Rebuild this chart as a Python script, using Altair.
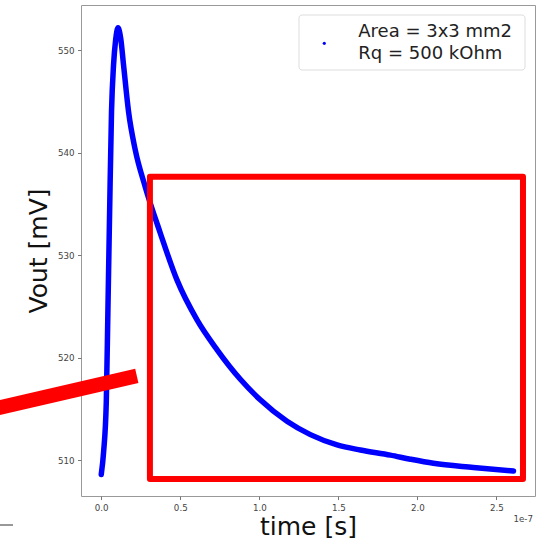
import altair as alt
import pandas as pd

# time in units of 1e-7 s, Vout in mV
t_vals = [0.000, 0.015, 0.032, 0.042, 0.053, 0.065, 0.078, 0.091, 0.106, 0.123,
          0.141, 0.173, 0.215, 0.278, 0.373, 0.479, 0.606, 0.732, 0.880, 1.006,
          1.175, 1.323, 1.492, 1.639, 1.829, 1.956, 2.101, 2.354, 2.608]
v_vals = [508.6, 510.8, 515.7, 524.4, 534.2, 544.0, 548.6, 551.0, 552.2, 551.2,
          548.6, 544.0, 540.3, 536.7, 532.2, 527.6, 523.7, 520.8, 517.9, 515.9,
          513.8, 512.5, 511.5, 511.0, 510.5, 510.1, 509.7, 509.3, 508.95]

x_ticks = [0.0, 0.5, 1.0, 1.5, 2.0, 2.5]
y_ticks = [510, 520, 530, 540, 550]
x_domain = [-0.128, 2.744]
y_domain = [506.51, 554.43]

legend_lines = ["Area = 3x3 mm2", "Rq = 500 kOhm"]

# annotation box and bar (data coordinates)
box = {"t": 0.308, "t2": 2.668, "v": 537.67, "v2": 508.17}
bar_t = [-0.70, 0.225]
bar_v = [514.94, 518.23]

curve_df = pd.DataFrame({"t": t_vals, "v": v_vals})
bar_df = pd.DataFrame({"t": bar_t, "v": bar_v})
one = alt.Data(values=[{}])

xs = alt.Scale(domain=x_domain, nice=False, zero=False)
ys = alt.Scale(domain=y_domain, nice=False, zero=False)
x_axis = alt.Axis(values=x_ticks, format=".1f", titleY=38, titleBaseline="alphabetic")
y_axis = alt.Axis(values=y_ticks, format="d", titleX=-35, titleY=245.5, titleAngle=-90,
                  titleBaseline="alphabetic", titleAlign="center")


def X(field="t"):
    return alt.X(f"{field}:Q", scale=xs, axis=x_axis, title="time [s]")


def Y(field="v"):
    return alt.Y(f"{field}:Q", scale=ys, axis=y_axis, title="Vout [mV]")


curve = alt.Chart(curve_df).mark_line(
    color="#0000ff", strokeWidth=5.5, strokeCap="round", strokeJoin="round",
    interpolate="monotone"
).encode(x=X(), y=Y())

rect = alt.Chart(alt.Data(values=[box])).mark_rect(
    fillOpacity=0, stroke="#ff0000", strokeWidth=6, strokeJoin="round"
).encode(x=X(), x2="t2:Q", y=Y(), y2="v2:Q")

bar = alt.Chart(bar_df).mark_line(
    color="#ff0000", strokeWidth=14.5, strokeCap="butt", clip=False
).encode(x=X(), y=Y())

legend_box = alt.Chart(one).mark_rect(
    fill="white", fillOpacity=0.8, stroke="#dddddd", strokeWidth=1, cornerRadius=3
).encode(x=alt.value(218), x2=alt.value(444), y=alt.value(10), y2=alt.value(65))

legend_dot = alt.Chart(one).mark_point(
    filled=True, color="#0000ff", size=10, opacity=1
).encode(x=alt.value(243.3), y=alt.value(38.3))

legend_t1 = alt.Chart(one).mark_text(
    align="left", baseline="alphabetic", font="DejaVu Sans", fontSize=18, color="#222222"
).encode(x=alt.value(277.3), y=alt.value(31.7), text=alt.value(legend_lines[0]))

legend_t2 = alt.Chart(one).mark_text(
    align="left", baseline="alphabetic", font="DejaVu Sans", fontSize=18, color="#222222"
).encode(x=alt.value(277.3), y=alt.value(54.3), text=alt.value(legend_lines[1]))

offset_txt = alt.Chart(one).mark_text(
    align="right", baseline="alphabetic", font="DejaVu Sans", fontSize=8.7, color="#444444"
).encode(x=alt.value(452), y=alt.value(517), text=alt.value("1e-7"))

stub = alt.Chart(one).mark_rule(color="#333333", strokeWidth=1, clip=False).encode(
    x=alt.value(-81), x2=alt.value(-68), y=alt.value(520)
)

chart = alt.layer(
    curve, rect, bar, legend_box, legend_dot, legend_t1, legend_t2, offset_txt, stub
).properties(
    width=454, height=491,
    padding={"left": 81, "top": 5, "right": 5, "bottom": 44},
    autosize=alt.AutoSizeParams(type="none"),
    background="white",
).configure_view(
    stroke="#999999", strokeWidth=1
).configure_axis(
    domain=False, grid=False, ticks=True, tickColor="#777777", tickSize=3.5,
    labelColor="#444444", labelFont="DejaVu Sans", labelFontSize=8.7,
    labelPadding=3.5, titleFont="DejaVu Sans", titleFontSize=25,
    titleFontWeight="normal", titleColor="#111111"
)

chart.save("out.html", embed_options={"renderer": "svg", "actions": False})
